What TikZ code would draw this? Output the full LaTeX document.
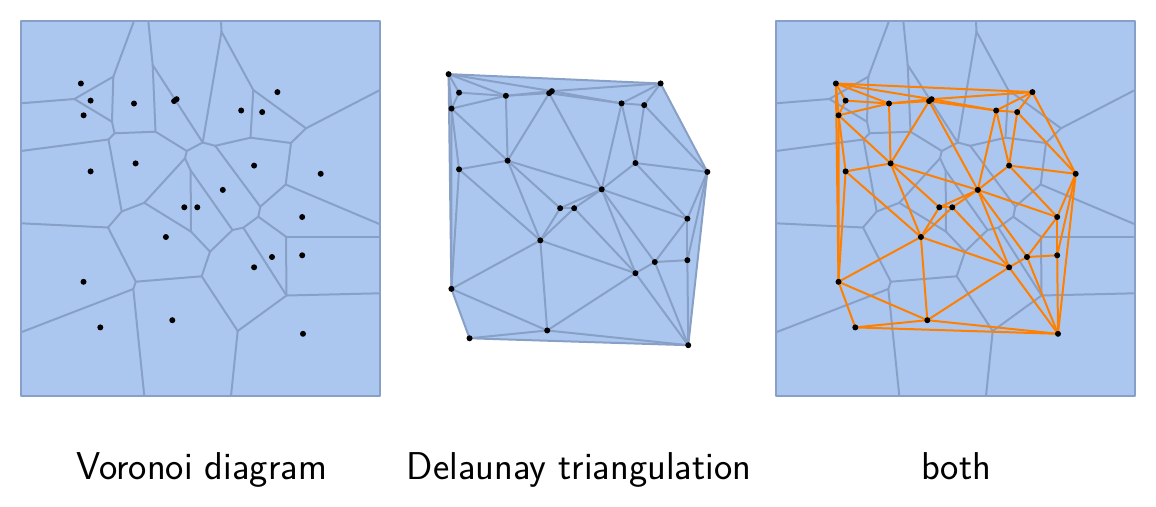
\documentclass[tikz,border=0pt]{standalone}
\usepackage{fontspec}
\definecolor{cellfill}{RGB}{171,199,240}
\definecolor{celledge}{RGB}{136,160,198}
\definecolor{delor}{RGB}{255,128,0}
\tikzset{
  vor/.style={draw=celledge, line width=2pt, line cap=round, line join=round},
  deledge/.style={draw=celledge, line width=2pt, line cap=round, line join=round},
  delorange/.style={draw=delor, line width=2pt, line cap=round, line join=round},
  dot/.style={fill=black},
  lbl/.style={anchor=base, font=\sffamily\fontsize{38.8}{46}\selectfont, inner sep=0pt}
}
\def\pts{A/80.9/83.5, B/90.6/100.6, C/83.6/115.3, D/134/103.5, E/174.1/101.1, F/176.6/99.2, G/135.6/163.4, H/90.6/171.4, I/184.3/207.3, J/197.3/207.3, K/277.4/92.1, L/241.2/110.5, M/262.2/112.1, N/254.1/165.6, O/320.7/173.8, P/222.8/189.9, Q/165.9/237, R/83.5/281.8, S/100.3/327.4, T/172.3/320.2, U/302.2/217, V/302.2/255.3, W/272/257, X/254.1/267.3, Y/303/333.8}
\def\vverts{va/113.3/76.7, vb/74.3/99, vc/112/121.7, vd/114.5/133.3, ve/155.5/131.7, vf/152.7/65, vg/202.7/142.5, vh/186.8/151, vi/108.5/139.5, vj/185/158.3, vk/221.5/31.7, vl/253.3/90, vm/250.5/137.7, vn/306/128.3, vo/291/143, vp/215.2/145.8, vq/260.3/206.7, vr/285.7/184.5, vs/258.3/216.7, vt/286/236.7, vu/232.5/230, vv/210/251.7, vw/144.3/202.8, vx/190.6/170.3, vy/191/231.6, vz/121.7/211.5, vaa/108/227.5, vbb/135.8/281.7, vbd/133.3/289, vcc/201.7/276.3, vab/243.3/227.7, vac/286.5/295.5, vad/237.7/331, tA/134/21, tB/148.3/21, tC/221/21, lA/21/103.3, lB/21/151, lC/21/223.3, lD/21/332.3, bA/144.3/396, bB/231/396, rA/380/90, rB/380/224.3, rC/380/236.7, rD/380/293.3, fa/21/21, fb/380/21, fc/380/396, fd/21/396}
\def\vedges{tA/va, va/vb, vb/lA, va/vc, vb/vc, vc/vd, vd/vi, vi/lB, vd/ve, ve/vf, vf/tB, vf/vg, ve/vh, vh/vg, vh/vj, vg/vk, vk/tC, vk/vl, vl/vm, vl/vn, vn/rA, vn/vo, vm/vo, vm/vp, vp/vg, vp/vq, vo/vr, vr/rB, vr/vq, vq/vs, vs/vt, vt/rC, vt/vac, vac/rD, vac/vab, vab/vs, vab/vu, vu/vv, vu/vx, vx/vj, vj/vw, vx/vy, vw/vz, vw/vy, vz/vi, vz/vaa, vaa/lC, vaa/vbb, vbb/vcc, vbb/vbd, vbd/lD, vbd/bA, vy/vv, vv/vcc, vcc/vad, vad/bB, vad/vac}
\def\dedges{A/B, A/C, A/D, A/F, A/K, A/R, B/C, B/D, C/D, C/G, C/H, C/R, D/E, D/F, D/G, E/F, E/G, E/P, E/L, F/K, F/L, G/H, G/I, G/P, G/Q, H/Q, H/R, I/J, I/P, I/Q, J/P, J/Q, J/X, K/L, K/M, K/O, L/M, L/N, L/P, M/N, M/O, N/O, N/P, N/U, O/U, O/V, O/Y, P/U, P/W, P/X, Q/R, Q/T, Q/X, R/S, R/T, S/T, S/Y, T/X, T/Y, U/V, U/W, V/W, V/Y, W/X, W/Y, X/Y}
\begin{document}
\begin{tikzpicture}[x=1pt,y=-1pt]
\useasboundingbox (0,0) rectangle (1156,506);
% coordinates
\foreach \n/\x/\y in \pts {
  \coordinate (L\n) at (\x,\y);
  \coordinate (R\n) at (\x+755,\y);
}
\begin{scope}[shift={(361.3,-16.3)}, xscale=1.079, yscale=1.083]
\foreach \n/\x/\y in \pts { \coordinate (M\n) at (\x,\y); }
\end{scope}
\foreach \n/\x/\y in \vverts {
  \coordinate (L\n) at (\x,\y);
  \coordinate (R\n) at (\x+755,\y);
}
% left panel: Voronoi
\fill[cellfill] (Lfa) rectangle (Lfc);
\foreach \a/\b in \vedges { \draw[vor] (L\a) -- (L\b); }
\draw[vor] (Lfa) rectangle (Lfc);
\foreach \n/\x/\y in \pts { \fill[dot] (L\n) circle[radius=3]; }
% middle panel: Delaunay
\fill[cellfill] (MA) -- (MK) -- (MO) -- (MY) -- (MS) -- (MR) -- cycle;
\foreach \a/\b in \dedges { \draw[deledge] (M\a) -- (M\b); }
\foreach \n/\x/\y in \pts { \fill[dot] (M\n) circle[radius=3]; }
% right panel: both
\fill[cellfill] (Rfa) rectangle (Rfc);
\foreach \a/\b in \vedges { \draw[vor] (R\a) -- (R\b); }
\draw[vor] (Rfa) rectangle (Rfc);
\foreach \a/\b in \dedges { \draw[delorange] (R\a) -- (R\b); }
\foreach \n/\x/\y in \pts { \fill[dot] (R\n) circle[radius=3]; }
% labels
\node[lbl] (t1) at (201.5,479) {Voronoi diagram};
\node[lbl] (t2) at (579,479) {Delaunay triangulation};
\node[lbl] (t3) at (956,479) {both};
\end{tikzpicture}
\end{document}
